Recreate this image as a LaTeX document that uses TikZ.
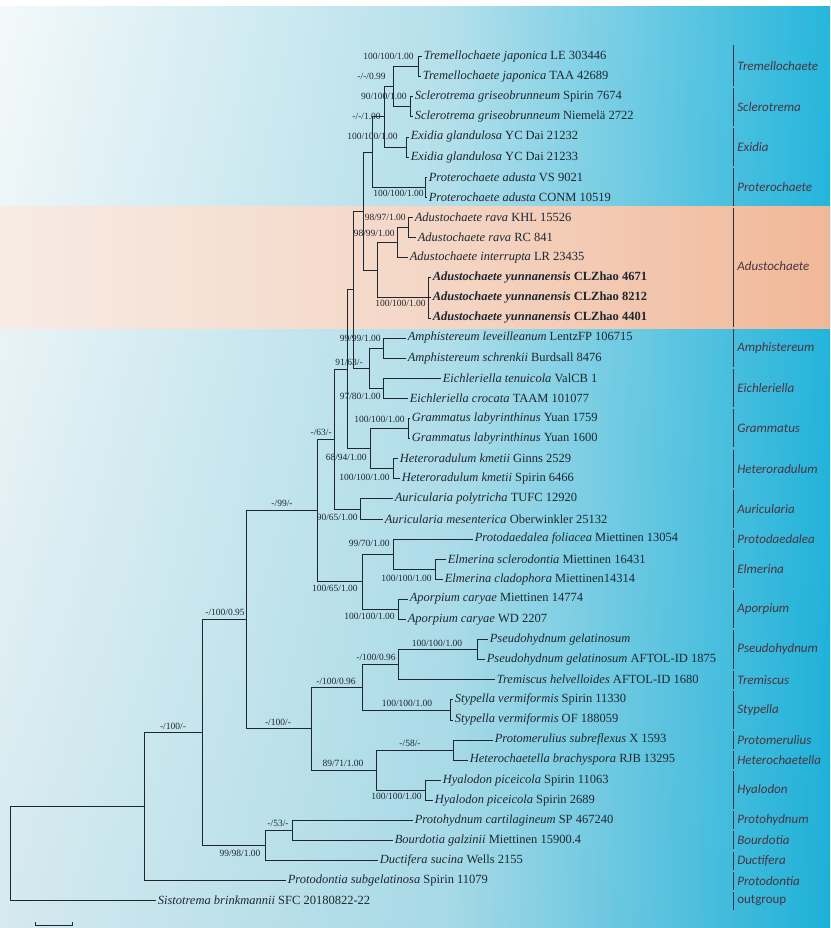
\documentclass[tikz,border=0pt]{standalone}
\usepackage{fontspec}
\setmainfont{Liberation Serif}
\newfontfamily\cladefont{Carlito}
\usetikzlibrary{shadings}
\definecolor{treeline}{HTML}{1E2730}
\definecolor{cladetext}{HTML}{4A3440}
\definecolor{barline}{HTML}{26304A}
\definecolor{bgtl}{RGB}{244,249,250}
\definecolor{bgbl}{RGB}{213,233,239}
\definecolor{bgtm}{RGB}{181,224,235}
\definecolor{bgbm}{RGB}{166,217,230}
\definecolor{bgtr}{RGB}{39,182,220}
\definecolor{bgbr}{RGB}{29,176,216}
\definecolor{orl}{RGB}{247,235,228}
\definecolor{orm}{RGB}{244,213,196}
\definecolor{orr}{RGB}{241,184,152}

\begin{document}
\begin{tikzpicture}[x=1pt, y=-1pt, % one unit = one pixel, y downwards
	line width=0.6pt, color=treeline,
	tip/.style={anchor=west, inner sep=1.5pt, font=\fontsize{12.5}{14}\selectfont},
	bs/.style={inner sep=0pt, font=\fontsize{9.5}{10}\selectfont},
	clade/.style={anchor=west, inner sep=0pt, text=cladetext,
		font=\cladefont\itshape\fontsize{13}{14}\selectfont},
	bar/.style={draw=barline, line width=0.9pt}]

	% background
	\useasboundingbox (0,0) rectangle (830,928);
	\shade[upper left=bgtl, lower left=bgbl, upper right=bgtm, lower right=bgbm]
		(0,0) rectangle (450,928);
	\shade[upper left=bgtm, lower left=bgbm, upper right=bgtr, lower right=bgbr]
		(450,0) rectangle (830,928);
	\shade[left color=orl, right color=orm] (0,206) rectangle (450,328);
	\shade[left color=orm, right color=orr] (450,206) rectangle (830,328);
	\fill[white] (0,0) rectangle (830,6);

	% tips
	\node[tip] (n1) at (422,56.5) {\textit{Tremellochaete japonica} LE 303446};
	\node[tip] (n2) at (421,76.6) {\textit{Tremellochaete japonica} TAA 42689};
	\node[tip] (n3) at (413,96.7) {\textit{Sclerotrema griseobrunneum} Spirin 7674};
	\node[tip] (n4) at (413,116.8) {\textit{Sclerotrema griseobrunneum} Niemelä 2722};
	\node[tip] (n5) at (409,136.9) {\textit{Exidia glandulosa} YC Dai 21232};
	\node[tip] (n6) at (409,157.0) {\textit{Exidia glandulosa} YC Dai 21233};
	\node[tip] (n7) at (427,177.1) {\textit{Proterochaete adusta} VS 9021};
	\node[tip] (n8) at (427,197.2) {\textit{Proterochaete adusta} CONM 10519};
	\node[tip] (n9) at (413,217.3) {\textit{Adustochaete rava} KHL 15526};
	\node[tip] (n10) at (416,237.4) {\textit{Adustochaete rava} RC 841};
	\node[tip] (n11) at (408,257.5) {\textit{Adustochaete interrupta} LR 23435};
	\node[tip] (n12) at (431,277.6) {\textbf{\textit{Adustochaete yunnanensis} CLZhao 4671}};
	\node[tip] (n13) at (431,297.7) {\textbf{\textit{Adustochaete yunnanensis} CLZhao 8212}};
	\node[tip] (n14) at (431,317.8) {\textbf{\textit{Adustochaete yunnanensis} CLZhao 4401}};
	\node[tip] (n15) at (406,337.9) {\textit{Amphistereum leveilleanum} LentzFP 106715};
	\node[tip] (n16) at (406,358.0) {\textit{Amphistereum schrenkii} Burdsall 8476};
	\node[tip] (n17) at (441,378.1) {\textit{Eichleriella tenuicola} ValCB 1};
	\node[tip] (n18) at (408,398.2) {\textit{Eichleriella crocata} TAAM 101077};
	\node[tip] (n19) at (410,418.3) {\textit{Grammatus labyrinthinus} Yuan 1759};
	\node[tip] (n20) at (410,438.4) {\textit{Grammatus labyrinthinus} Yuan 1600};
	\node[tip] (n21) at (398,458.5) {\textit{Heteroradulum kmetii} Ginns 2529};
	\node[tip] (n22) at (400,478.6) {\textit{Heteroradulum kmetii} Spirin 6466};
	\node[tip] (n23) at (393,498.7) {\textit{Auricularia polytricha} TUFC 12920};
	\node[tip] (n24) at (383,518.8) {\textit{Auricularia mesenterica} Oberwinkler 25132};
	\node[tip] (n25) at (473,538.9) {\textit{Protodaedalea foliacea} Miettinen 13054};
	\node[tip] (n26) at (446,559.0) {\textit{Elmerina sclerodontia} Miettinen 16431};
	\node[tip] (n27) at (443,579.1) {\textit{Elmerina cladophora} Miettinen14314};
	\node[tip] (n28) at (408,599.2) {\textit{Aporpium caryae} Miettinen 14774};
	\node[tip] (n29) at (406,619.3) {\textit{Aporpium caryae} WD 2207};
	\node[tip] (n30) at (488,639.4) {\textit{Pseudohydnum gelatinosum}};
	\node[tip] (n31) at (485,659.5) {\textit{Pseudohydnum gelatinosum} AFTOL-ID 1875};
	\node[tip] (n32) at (495,679.6) {\textit{Tremiscus helvelloides} AFTOL-ID 1680};
	\node[tip] (n33) at (453,699.7) {\textit{Stypella vermiformis} Spirin 11330};
	\node[tip] (n34) at (453,719.8) {\textit{Stypella vermiformis} OF 188059};
	\node[tip] (n35) at (493,739.9) {\textit{Protomerulius subreflexus} X 1593};
	\node[tip] (n36) at (468,760.0) {\textit{Heterochaetella brachyspora} RJB 13295};
	\node[tip] (n37) at (441,780.1) {\textit{Hyalodon piceicola} Spirin 11063};
	\node[tip] (n38) at (433,800.2) {\textit{Hyalodon piceicola} Spirin 2689};
	\node[tip] (n39) at (413,820.3) {\textit{Protohydnum cartilagineum} SP 467240};
	\node[tip] (n40) at (393,840.4) {\textit{Bourdotia galzinii} Miettinen 15900.4};
	\node[tip] (n41) at (378,860.5) {\textit{Ductifera sucina} Wells 2155};
	\node[tip] (n42) at (286,880.6) {\textit{Protodontia subgelatinosa} Spirin 11079};
	\node[tip] (n43) at (156,900.7) {\textit{Sistotrema brinkmannii} SFC 20180822-22};

	% internal nodes
	\coordinate (trem) at (418,66.6);
	\coordinate (scler) at (410,106.8);
	\coordinate (ts) at (393,86.7);
	\coordinate (exid) at (406,147.0);
	\coordinate (tse) at (384,116.8);
	\coordinate (prot) at (425,187.2);
	\coordinate (tsep) at (372,152.0);
	\coordinate (rava) at (408,227.4);
	\coordinate (ri) at (397,242.4);
	\coordinate (yunn) at (428,297.7);
	\coordinate (adu) at (377,270.1);
	\coordinate (exg) at (363,211.0);
	\coordinate (amph) at (383,348.0);
	\coordinate (eich) at (383,388.2);
	\coordinate (ae) at (369,368.1);
	\coordinate (x1) at (353,289.5);
	\coordinate (gram) at (408,428.4);
	\coordinate (het) at (393,468.6);
	\coordinate (gh) at (370,448.5);
	\coordinate (x2) at (347,369.0);
	\coordinate (auric) at (360,508.8);
	\coordinate (x3) at (334,438.9);
	\coordinate (elm) at (435,569.1);
	\coordinate (pe) at (393,554.0);
	\coordinate (apor) at (398,609.3);
	\coordinate (y) at (362,581.6);
	\coordinate (x4) at (317,510.3);
	\coordinate (pseudo) at (477,649.5);
	\coordinate (pt) at (398,664.5);
	\coordinate (styp) at (450,709.8);
	\coordinate (zt) at (362,687.2);
	\coordinate (ph) at (453,750.0);
	\coordinate (hyal) at (425,790.2);
	\coordinate (zb) at (376,770.1);
	\coordinate (z) at (311,728.6);
	\coordinate (x5) at (246,619.5);
	\coordinate (pb) at (292,830.4);
	\coordinate (w) at (265,845.5);
	\coordinate (x6) at (202,732.5);
	\coordinate (x7) at (144,806.6);
	\coordinate (root) at (10,853.6);

	% branches
	\draw (trem) |- (n1.west); \draw (trem) |- (n2.west);
	\draw (scler) |- (n3.west); \draw (scler) |- (n4.west);
	\draw (ts) |- (trem); \draw (ts) |- (scler);
	\draw (exid) |- (n5.west); \draw (exid) |- (n6.west);
	\draw (tse) |- (ts); \draw (tse) |- (exid);
	\draw (prot) |- (n7.west); \draw (prot) |- (n8.west);
	\draw (tsep) |- (tse); \draw (tsep) |- (prot);
	\draw (rava) |- (n9.west); \draw (rava) |- (n10.west);
	\draw (ri) |- (rava); \draw (ri) |- (n11.west);
	\draw (yunn) |- (n12.west); \draw (yunn) |- (n13.west); \draw (yunn) |- (n14.west);
	\draw (adu) |- (ri); \draw (adu) |- (yunn);
	\draw (exg) |- (tsep); \draw (exg) |- (adu);
	\draw (amph) |- (n15.west); \draw (amph) |- (n16.west);
	\draw (eich) |- (n17.west); \draw (eich) |- (n18.west);
	\draw (ae) |- (amph); \draw (ae) |- (eich);
	\draw (x1) |- (exg); \draw (x1) |- (ae);
	\draw (gram) |- (n19.west); \draw (gram) |- (n20.west);
	\draw (het) |- (n21.west); \draw (het) |- (n22.west);
	\draw (gh) |- (gram); \draw (gh) |- (het);
	\draw (x2) |- (x1); \draw (x2) |- (gh);
	\draw (auric) |- (n23.west); \draw (auric) |- (n24.west);
	\draw (x3) |- (x2); \draw (x3) |- (auric);
	\draw (elm) |- (n26.west); \draw (elm) |- (n27.west);
	\draw (pe) |- (n25.west); \draw (pe) |- (elm);
	\draw (apor) |- (n28.west); \draw (apor) |- (n29.west);
	\draw (y) |- (pe); \draw (y) |- (apor);
	\draw (x4) |- (x3); \draw (x4) |- (y);
	\draw (pseudo) |- (n30.west); \draw (pseudo) |- (n31.west);
	\draw (pt) |- (pseudo); \draw (pt) |- (n32.west);
	\draw (styp) |- (n33.west); \draw (styp) |- (n34.west);
	\draw (zt) |- (pt); \draw (zt) |- (styp);
	\draw (ph) |- (n35.west); \draw (ph) |- (n36.west);
	\draw (hyal) |- (n37.west); \draw (hyal) |- (n38.west);
	\draw (zb) |- (ph); \draw (zb) |- (hyal);
	\draw (z) |- (zt); \draw (z) |- (zb);
	\draw (x5) |- (x4); \draw (x5) |- (z);
	\draw (pb) |- (n39.west); \draw (pb) |- (n40.west);
	\draw (w) |- (pb); \draw (w) |- (n41.west);
	\draw (x6) |- (x5); \draw (x6) |- (w);
	\draw (x7) |- (x6); \draw (x7) |- (n42.west);
	\draw (root) |- (x7); \draw (root) |- (n43.west);

	% support values
	\node[bs, anchor=east] (b1) at (414,56.5) {100/100/1.00};
	\node[bs, anchor=east] (b2) at (407,96.7) {90/100/1.00};
	\node[bs, anchor=east] (b3) at (386,76.6) {-/-/0.99};
	\node[bs, anchor=east] (b4) at (398,136.9) {100/100/1.00};
	\node[bs, anchor=east] (b5) at (381,116.8) {-/-/1.00};
	\node[bs, anchor=north east] (b6) at (424,190) {100/100/1.00};
	\node[bs, anchor=east] (b7) at (406,217) {98/97/1.00};
	\node[bs, anchor=east] (b8) at (395,233) {98/99/1.00};
	\node[bs, anchor=north east] (b9) at (426,300) {100/100/1.00};
	\node[bs, anchor=east] (b10) at (381,338) {99/99/1.00};
	\node[bs] (b11) at (349,362) {91/63/-};
	\node[bs, anchor=east] (b12) at (381,396) {97/80/1.00};
	\node[bs, anchor=east] (b13) at (405,419) {100/100/1.00};
	\node[bs, anchor=east] (b14) at (367,457) {68/94/1.00};
	\node[bs, anchor=east] (b15) at (390,477) {100/100/1.00};
	\node[bs, anchor=east] (b16) at (332,432) {-/63/-};
	\node[bs, anchor=east] (b17) at (358,517) {90/65/1.00};
	\node[bs] (b18) at (282,503) {-/99/-};
	\node[bs, anchor=east] (b19) at (390,543) {99/70/1.00};
	\node[bs, anchor=east] (b20) at (432,578) {100/100/1.00};
	\node[bs, anchor=east] (b21) at (358,588) {100/65/1.00};
	\node[bs, anchor=east] (b22) at (395,616) {100/100/1.00};
	\node[bs] (b23) at (225,612) {-/100/0.95};
	\node[bs] (b24) at (437,643) {100/100/1.00};
	\node[bs] (b25) at (376,657) {-/100/0.96};
	\node[bs] (b26) at (407,703) {100/100/1.00};
	\node[bs] (b27) at (336,681) {-/100/0.96};
	\node[bs] (b28) at (278,722) {-/100/-};
	\node[bs] (b29) at (410,743) {-/58/-};
	\node[bs] (b30) at (343,763) {89/71/1.00};
	\node[bs, anchor=east] (b31) at (422,796) {100/100/1.00};
	\node[bs] (b32) at (173,726) {-/100/-};
	\node[bs] (b33) at (278,823) {-/53/-};
	\node[bs] (b34) at (240,853) {99/98/1.00};

	% clade bars and names
	\draw[bar] (733,45.5) -- (733,85.6);   \node[clade] (k1) at (737,65.6) {Tremellochaete};
	\draw[bar] (733,87.7) -- (733,125.8);  \node[clade] (k2) at (737,106.8) {Sclerotrema};
	\draw[bar] (733,127.9) -- (733,166.0); \node[clade] (k3) at (737,147.0) {Exidia};
	\draw[bar] (733,168.1) -- (733,206.2); \node[clade] (k4) at (737,187.2) {Proterochaete};
	\draw[bar] (733,208.3) -- (733,326.8); \node[clade] (k5) at (737,265.6) {Adustochaete};
	\draw[bar] (733,328.9) -- (733,367.0); \node[clade] (k6) at (737,348.0) {Amphistereum};
	\draw[bar] (733,369.1) -- (733,407.2); \node[clade] (k7) at (737,388.2) {Eichleriella};
	\draw[bar] (733,409.3) -- (733,447.4); \node[clade] (k8) at (737,428.4) {Grammatus};
	\draw[bar] (733,449.5) -- (733,487.6); \node[clade] (k9) at (737,468.6) {Heteroradulum};
	\draw[bar] (733,489.7) -- (733,527.8); \node[clade] (k10) at (737,508.8) {Auricularia};
	\draw[bar] (733,529.9) -- (733,547.9); \node[clade] (k11) at (737,538.9) {Protodaedalea};
	\draw[bar] (733,550.0) -- (733,588.1); \node[clade] (k12) at (737,569.1) {Elmerina};
	\draw[bar] (733,590.2) -- (733,628.3); \node[clade] (k13) at (737,609.3) {Aporpium};
	\draw[bar] (733,630.4) -- (733,668.5); \node[clade] (k14) at (737,649.5) {Pseudohydnum};
	\draw[bar] (733,670.6) -- (733,688.6); \node[clade] (k15) at (737,679.6) {Tremiscus};
	\draw[bar] (733,690.7) -- (733,728.8); \node[clade] (k16) at (737,709.8) {Stypella};
	\draw[bar] (733,730.9) -- (733,748.9); \node[clade] (k17) at (737,739.9) {Protomerulius};
	\draw[bar] (733,751.0) -- (733,769.0); \node[clade] (k18) at (737,760.0) {Heterochaetella};
	\draw[bar] (733,771.1) -- (733,809.2); \node[clade] (k19) at (737,790.2) {Hyalodon};
	\draw[bar] (733,811.3) -- (733,829.3); \node[clade] (k20) at (737,820.3) {Protohydnum};
	\draw[bar] (733,831.4) -- (733,849.4); \node[clade] (k21) at (737,840.4) {Bourdotia};
	\draw[bar] (733,851.5) -- (733,869.5); \node[clade] (k22) at (737,860.5) {Ductifera};
	\draw[bar] (733,871.6) -- (733,889.6); \node[clade] (k23) at (737,880.6) {Protodontia};
	\draw[bar] (733,891.7) -- (733,909.7); \node[clade, font=\cladefont\fontsize{13}{14}\selectfont] (k24) at (737,900.7) {outgroup};

	% scale bar
	\coordinate (s1) at (35,925);
	\coordinate (s2) at (72,925);
	\draw (s1) ++(0,-3) -- (s1) -- (s2) -- ++(0,-3);
\end{tikzpicture}
\end{document}
